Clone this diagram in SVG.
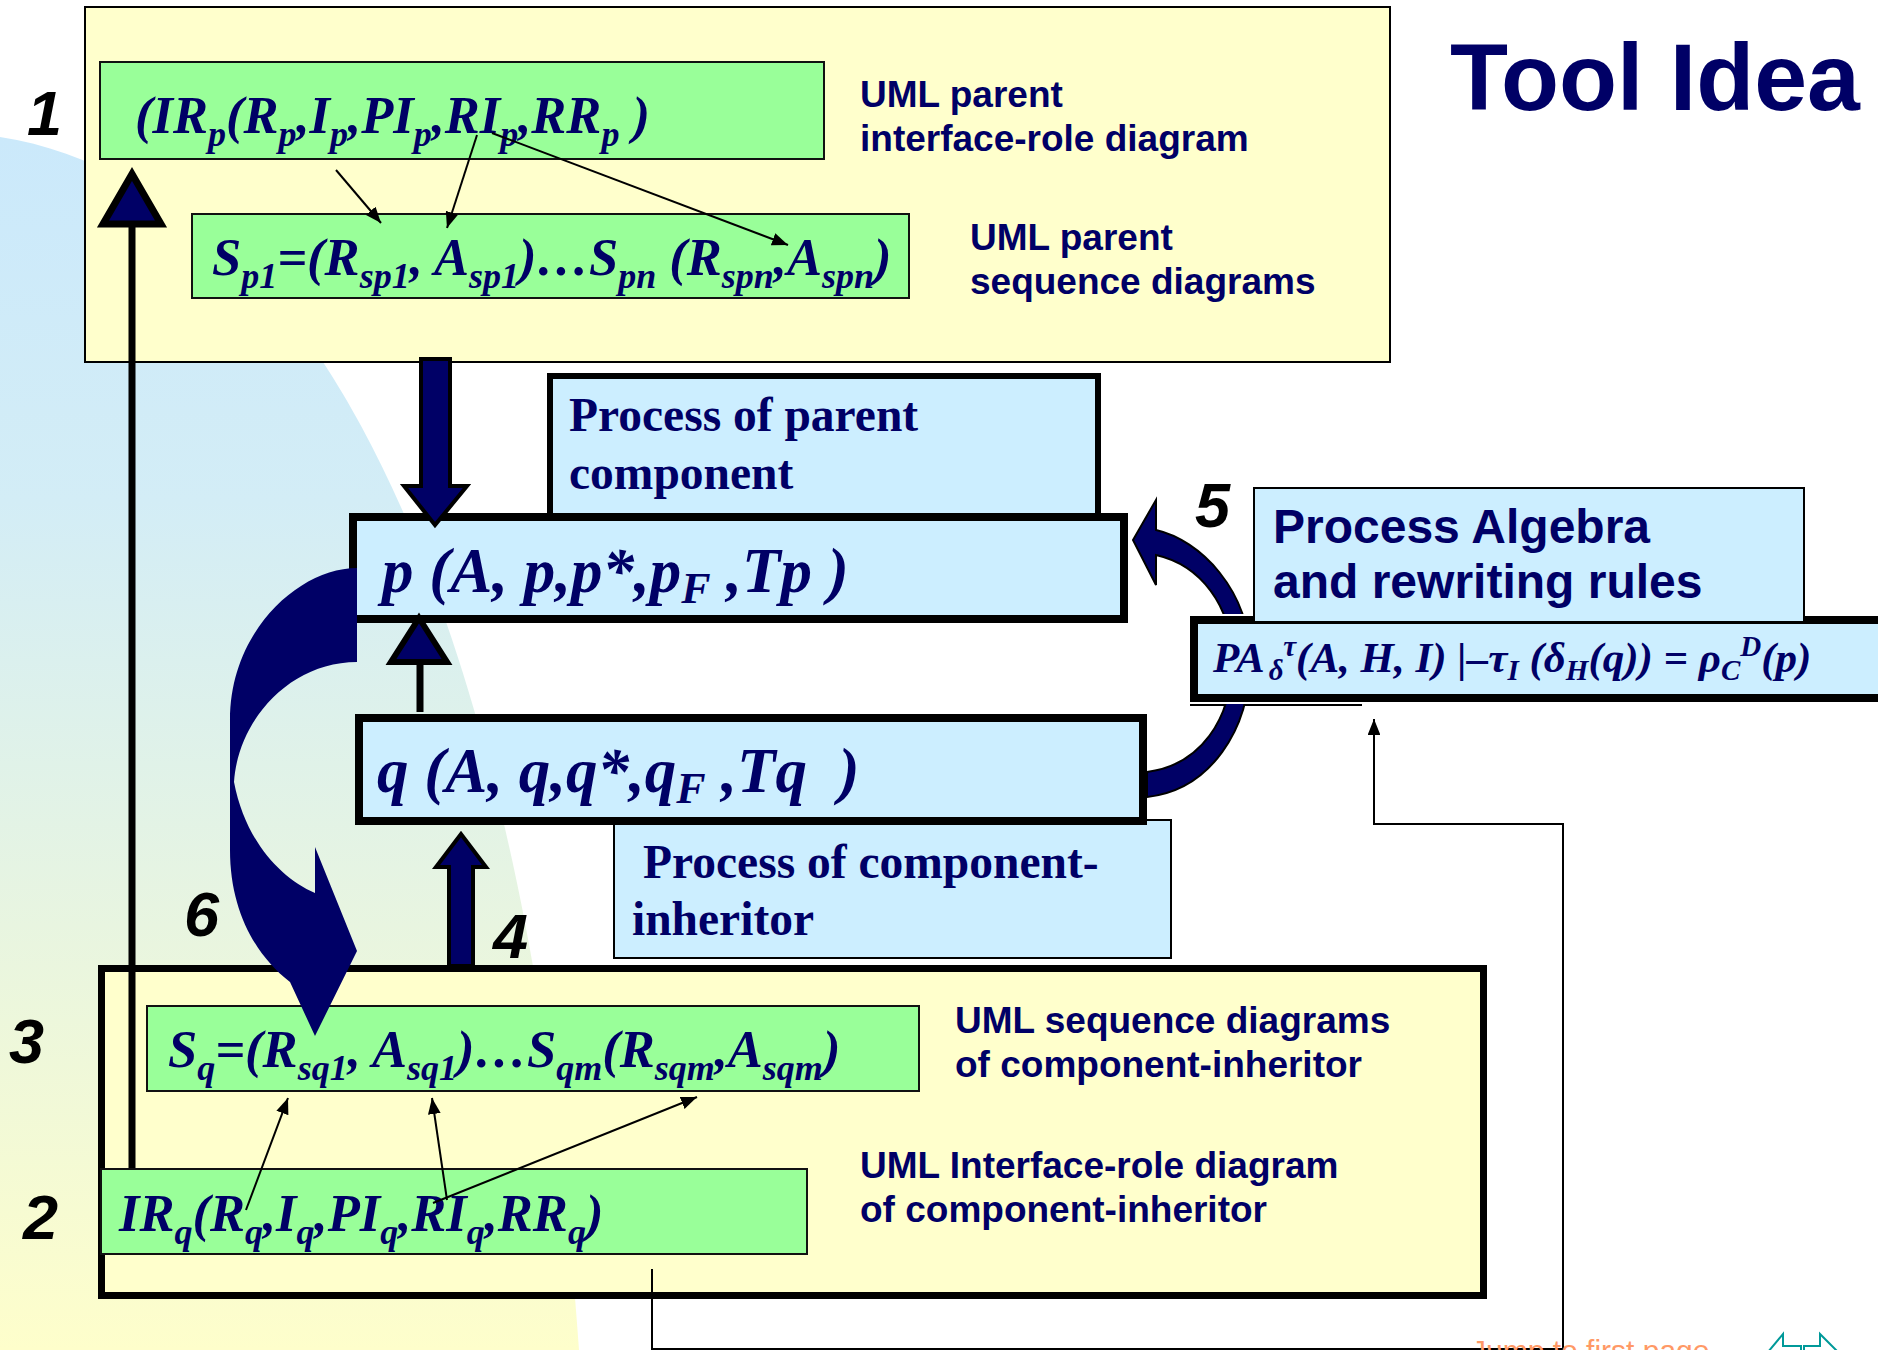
<svg xmlns="http://www.w3.org/2000/svg" width="1878" height="1350" viewBox="0 0 1878 1350">
<defs>
  <linearGradient id="bgGrad" x1="0" y1="0" x2="0" y2="1">
    <stop offset="0" stop-color="#cbe9fb"/>
    <stop offset="0.3" stop-color="#d3edf6"/>
    <stop offset="0.65" stop-color="#e8f5e0"/>
    <stop offset="1" stop-color="#fefecb"/>
  </linearGradient>
  <marker id="tip" viewBox="0 0 10 8" refX="10" refY="4" markerWidth="8" markerHeight="6.4" orient="auto" markerUnits="strokeWidth">
    <path d="M0,0 L10,4 L0,8 Z" fill="#000"/>
  </marker>
  <!-- everything except the rewriting-rule box, so the curved arrow passes behind it -->
  <clipPath id="behindRule">
    <path clip-rule="evenodd" d="M0,0 H1878 V1350 H0 Z M1188,614 H1878 V704 H1188 Z"/>
  </clipPath>
</defs>
<style>
  .frame{fill:#ffffcc;stroke:#000}
  .green{fill:#99ff99;stroke:#111;stroke-width:2}
  .blue{fill:#cceeff;stroke:#000}
  .fm{font-family:"Liberation Serif","Times New Roman",serif;font-weight:bold;font-style:italic;font-size:52.5px;fill:#000066}
  .fm .sb{font-size:36px}
  .pt{font-family:"Liberation Serif","Times New Roman",serif;font-weight:bold;font-style:italic;font-size:63px;fill:#000066;white-space:pre}
  .pt .sb{font-size:44px}
  .pa{font-family:"Liberation Serif","Times New Roman",serif;font-weight:bold;font-style:italic;font-size:43px;fill:#000066}
  .pa .sb{font-size:29px}
  .lbl{font-family:"Liberation Sans",Arial,sans-serif;font-weight:bold;font-size:37px;fill:#000066}
  .rm{font-family:"Liberation Serif","Times New Roman",serif;font-weight:bold;font-size:47.5px;fill:#000066}
  .alg{font-family:"Liberation Sans",Arial,sans-serif;font-weight:bold;font-size:48px;fill:#000066}
  .num{font-family:"Liberation Sans",Arial,sans-serif;font-weight:bold;font-style:italic;font-size:63px;fill:#000}
  .thin{stroke:#000;stroke-width:2;fill:none;marker-end:url(#tip)}
  .block{fill:#000066;stroke:#000;stroke-width:4;stroke-linejoin:miter}
  .navy{fill:#000066;stroke:#000}
</style>

<!-- page background -->
<rect x="0" y="0" width="1878" height="1350" fill="#fff"/>
<path d="M0,137 C150,160 270,280 323,362 C420,510 540,800 579,1350 L0,1350 Z" fill="url(#bgGrad)"/>

<!-- parent component: UML diagrams -->
<g id="parent-uml">
  <rect class="frame" x="85" y="7" width="1305" height="355" stroke-width="2"/>
  <g id="parent-interface-role">
    <rect class="green" x="100" y="62" width="724" height="97"/>
    <text class="fm" x="135" y="133">(IR<tspan class="sb" dy="13">p</tspan><tspan dy="-13">(R</tspan><tspan class="sb" dy="13">p</tspan><tspan dy="-13">,I</tspan><tspan class="sb" dy="13">p</tspan><tspan dy="-13">,PI</tspan><tspan class="sb" dy="13">p</tspan><tspan dy="-13">,RI</tspan><tspan class="sb" dy="13">p</tspan><tspan dy="-13">,RR</tspan><tspan class="sb" dy="13">p</tspan><tspan dy="-13"> )</tspan></text>
    <text class="lbl" x="860" y="107">UML parent</text>
    <text class="lbl" x="860" y="151">interface-role diagram</text>
  </g>
  <g id="parent-sequence">
    <rect class="green" x="192" y="214" width="717" height="84"/>
    <text class="fm" x="212" y="275">S<tspan class="sb" dy="13">p1</tspan><tspan dy="-13">=(R</tspan><tspan class="sb" dy="13">sp1</tspan><tspan dy="-13">, A</tspan><tspan class="sb" dy="13">sp1</tspan><tspan dy="-13">)…S</tspan><tspan class="sb" dy="13">pn</tspan><tspan dy="-13"> (R</tspan><tspan class="sb" dy="13">spn</tspan><tspan dy="-13">,A</tspan><tspan class="sb" dy="13">spn</tspan><tspan dy="-13">)</tspan></text>
    <text class="lbl" x="970" y="250">UML parent</text>
    <text class="lbl" x="970" y="294">sequence diagrams</text>
  </g>
</g>

<!-- process of the parent component -->
<g id="parent-process">
  <rect class="blue" x="550" y="376" width="548" height="140" stroke-width="6"/>
  <text class="rm" x="569" y="431">Process of parent</text>
  <text class="rm" x="569" y="489">component</text>
</g>
<g id="p-term">
  <rect class="blue" x="353" y="517" width="771" height="102" stroke-width="8"/>
  <text class="pt" x="382" y="592">p (A, p,p*,p<tspan class="sb" dy="11">F</tspan><tspan dy="-11"> ,Tp )</tspan></text>
</g>

<!-- process of the component-inheritor -->
<g id="inheritor-process">
  <rect class="blue" x="614" y="820" width="557" height="138" stroke-width="2"/>
  <text class="rm" x="643" y="878">Process of component-</text>
  <text class="rm" x="632" y="935">inheritor</text>
</g>
<g id="q-term">
  <rect class="blue" x="359" y="718" width="784" height="103" stroke-width="8"/>
  <text class="pt" x="377" y="792">q (A, q,q*,q<tspan class="sb" dy="11">F</tspan><tspan dy="-11"> ,Tq  )</tspan></text>
</g>

<!-- process algebra rule -->
<g id="rewrite-rule">
  <rect class="blue" x="1194" y="620" width="720" height="78" stroke-width="8"/>
  <line x1="1190" y1="705" x2="1362" y2="705" stroke="#000" stroke-width="2"/>
  <text class="pa" x="1213" y="672">PA<tspan class="sb" dx="4" dy="8">δ</tspan><tspan class="sb" dy="-24">τ</tspan><tspan dy="16">(A, H, I) |–τ</tspan><tspan class="sb" dy="8">I</tspan><tspan dy="-8"> (δ</tspan><tspan class="sb" dy="8">H</tspan><tspan dy="-8">(q)) = ρ</tspan><tspan class="sb" dy="8">C</tspan><tspan class="sb" dy="-24">D</tspan><tspan dy="16">(p)</tspan></text>
</g>
<g id="process-algebra">
  <rect class="blue" x="1254" y="488" width="550" height="134" stroke-width="2"/>
  <text class="alg" x="1273" y="543">Process Algebra</text>
  <text class="alg" x="1273" y="598">and rewriting rules</text>
</g>

<!-- component-inheritor: UML diagrams -->
<g id="inheritor-uml">
  <rect class="frame" x="101.5" y="968.5" width="1382" height="327" stroke-width="7"/>
  <g id="inheritor-sequence">
    <rect class="green" x="147" y="1006" width="772" height="85"/>
    <text class="fm" x="168" y="1067">S<tspan class="sb" dy="13">q</tspan><tspan dy="-13">=(R</tspan><tspan class="sb" dy="13">sq1</tspan><tspan dy="-13">, A</tspan><tspan class="sb" dy="13">sq1</tspan><tspan dy="-13">)…S</tspan><tspan class="sb" dy="13">qm</tspan><tspan dy="-13">(R</tspan><tspan class="sb" dy="13">sqm</tspan><tspan dy="-13">,A</tspan><tspan class="sb" dy="13">sqm</tspan><tspan dy="-13">)</tspan></text>
    <text class="lbl" x="955" y="1033">UML sequence diagrams</text>
    <text class="lbl" x="955" y="1077">of component-inheritor</text>
  </g>
  <g id="inheritor-interface-role">
    <rect class="green" x="101" y="1169" width="706" height="85"/>
    <text class="fm" x="119" y="1231">IR<tspan class="sb" dy="13">q</tspan><tspan dy="-13">(R</tspan><tspan class="sb" dy="13">q</tspan><tspan dy="-13">,I</tspan><tspan class="sb" dy="13">q</tspan><tspan dy="-13">,PI</tspan><tspan class="sb" dy="13">q</tspan><tspan dy="-13">,RI</tspan><tspan class="sb" dy="13">q</tspan><tspan dy="-13">,RR</tspan><tspan class="sb" dy="13">q</tspan><tspan dy="-13">)</tspan></text>
    <text class="lbl" x="860" y="1178">UML Interface-role diagram</text>
    <text class="lbl" x="860" y="1222">of component-inheritor</text>
  </g>
</g>

<!-- connectors -->
<g id="connectors">
  <!-- element mappings, parent -->
  <line class="thin" x1="336" y1="170" x2="381" y2="223"/>
  <line class="thin" x1="477" y1="135" x2="447" y2="228"/>
  <line class="thin" x1="492" y1="133" x2="788" y2="245"/>
  <!-- element mappings, inheritor -->
  <line class="thin" x1="246" y1="1210" x2="288" y2="1098"/>
  <line class="thin" x1="447" y1="1200" x2="432" y2="1098"/>
  <line class="thin" x1="433" y1="1203" x2="697" y2="1097"/>
  <!-- 2 -> 1 -->
  <line x1="132" y1="226" x2="132" y2="1168" stroke="#000" stroke-width="7"/>
  <polygon class="navy" points="132,174 103,224 161,224" stroke-width="7" stroke-linejoin="miter"/>
  <!-- UML -> p -->
  <polygon class="block" points="421,359 450,359 450,486 467,486 435,525 404,486 421,486"/>
  <!-- q -> p -->
  <line x1="420" y1="664" x2="420" y2="712" stroke="#000" stroke-width="7"/>
  <polygon class="navy" points="419,618 391,662 447,662" stroke-width="6" stroke-linejoin="miter"/>
  <!-- 4: inheritor UML -> q -->
  <polygon class="block" points="449,966 473,966 473,867 486,867 461,834 436,867 449,867"/>
  <!-- 5: q -> p via rewriting -->
  <path clip-path="url(#behindRule)" fill="#000066" stroke="#000" stroke-width="2" d="M1156,530 C1200,540 1250,590 1250,660 C1250,730 1210,790 1147,797 L1147,772 C1200,765 1232,720 1232,660 C1232,605 1200,565 1156,555 L1156,585 L1133,540 L1156,500 Z"/>
  <!-- 6: p -> inheritor sequence diagrams -->
  <path fill="#000066" d="M357,568 C300,568 230,630 230,720 L230,850 C230,910 255,955 290,982 L315,1036 L357,951 L315,847 L315,893 C280,878 245,840 234,782 C238,720 290,662 357,662 Z"/>
  <!-- feedback into the rule -->
  <polyline class="thin" stroke-width="2.5" points="652,1269 652,1349 1563,1349 1563,824 1374,824 1374,719"/>
</g>

<!-- step numbers -->
<text class="num" x="27" y="135">1</text>
<text class="num" x="23" y="1239">2</text>
<text class="num" x="9" y="1063">3</text>
<text class="num" x="493" y="958">4</text>
<text class="num" x="1195" y="527">5</text>
<text class="num" x="184" y="936">6</text>

<!-- title -->
<text x="1450" y="110" font-family="Liberation Sans, Arial, sans-serif" font-weight="bold" font-size="95" fill="#000066">Tool Idea</text>

<!-- footer navigation -->
<text x="1471" y="1361" font-family="Liberation Sans, Arial, sans-serif" font-size="30" fill="#ff9966">Jump to first page</text>
<path d="M1768,1352 L1783,1334 L1783,1346 L1801,1346 L1801,1360" fill="none" stroke="#009999" stroke-width="2"/>
<path d="M1804,1360 L1804,1346 L1820,1346 L1820,1334 L1838,1352" fill="none" stroke="#009999" stroke-width="2"/>
</svg>
